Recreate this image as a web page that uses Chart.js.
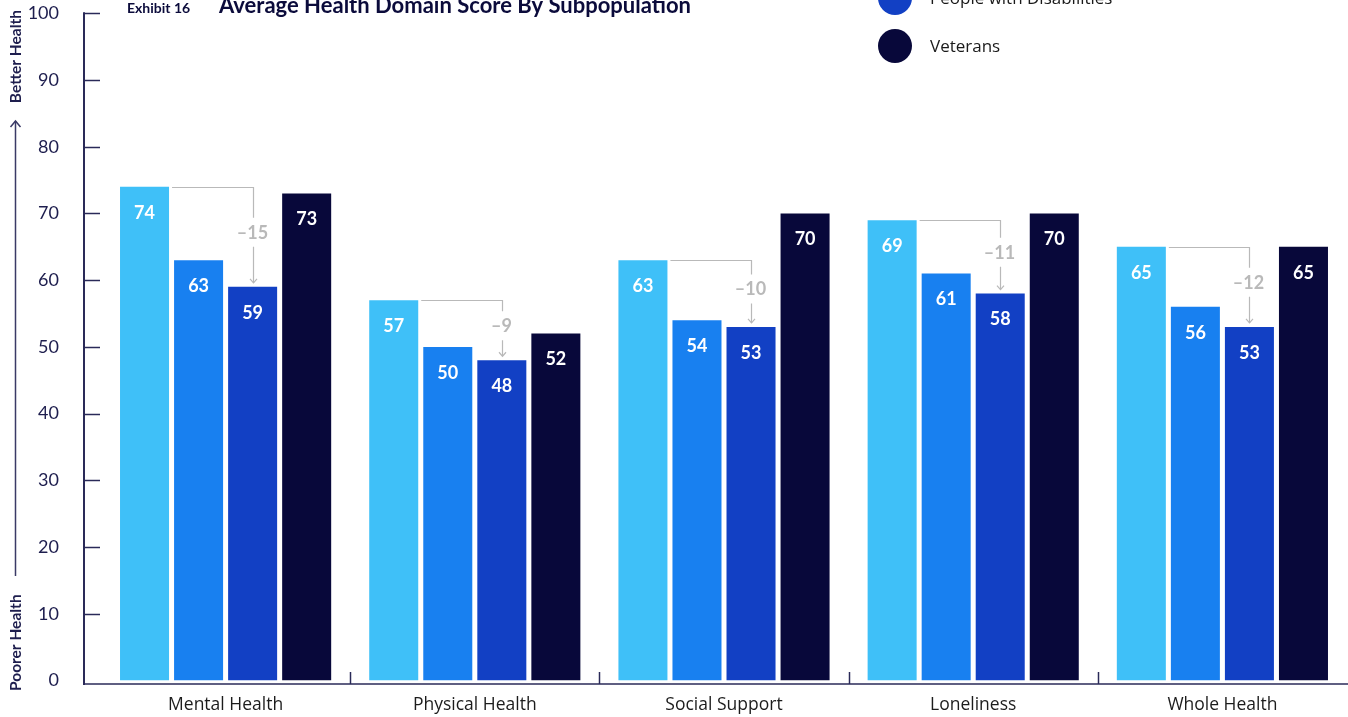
<!DOCTYPE html>
<html>
<head>
<meta charset="utf-8">
<script src="https://cdn.jsdelivr.net/npm/chart.js@4/dist/chart.umd.min.js"></script>
<style>
  html, body { margin: 0; padding: 0; background: #ffffff; }
  #wrap { width: 1348px; height: 717px; position: relative; }
</style>
</head>
<body>
<div id="wrap"><canvas id="c"></canvas></div>
<script>
// Health domains (x categories)
const domains = ['Mental Health', 'Physical Health', 'Social Support', 'Loneliness', 'Whole Health'];

// Average domain score per subpopulation
const seriesNames = ['All Adults', 'LGBTQ+ Adults', 'People with Disabilities', 'Veterans'];
const allAdults    = [74, 57, 63, 69, 65];
const lgbtqAdults  = [63, 50, 54, 61, 56];
const disabilities = [59, 48, 53, 58, 53];
const veterans     = [73, 52, 70, 70, 65];

const seriesColors = ['#3fc0f8', '#1880f0', '#1240c4', '#08083a'];

// y axis ticks
const yTicks = [0, 10, 20, 30, 40, 50, 60, 70, 80, 90, 100];

const NAVY = '#1e1e4e';
const AXIS = '#2a2a58';
const GRAY = '#b9b9b9';

// Title block
const titlePlugin = {
  id: 'titleBlock',
  afterDraw(chart) {
    const ctx = chart.ctx;
    ctx.save();
    ctx.fillStyle = '#0b0b3b';
    ctx.textBaseline = 'alphabetic';
    ctx.textAlign = 'left';
    ctx.font = 'bold 14px Lato, "Open Sans", sans-serif';
    ctx.fillText('Exhibit 16', 127, 13);
    ctx.font = 'bold 22px Lato, "Open Sans", sans-serif';
    ctx.fillText('Average Health Domain Score By Subpopulation', 219, 13);
    ctx.restore();
  }
};

// Stacked legend with round swatches
const legendPlugin = {
  id: 'roundLegend',
  afterDraw(chart) {
    const ctx = chart.ctx;
    const ds = chart.data.datasets;
    const n = ds.length;
    ctx.save();
    ctx.font = '17px "Open Sans", sans-serif';
    ctx.textBaseline = 'middle';
    ctx.textAlign = 'left';
    ds.forEach((d, i) => {
      const cy = 46 - (n - 1 - i) * 48;
      ctx.beginPath();
      ctx.arc(895, cy, 17, 0, Math.PI * 2);
      ctx.fillStyle = d.backgroundColor;
      ctx.fill();
      ctx.fillStyle = '#1a1a1a';
      ctx.fillText(d.label, 930, cy + 1);
    });
    ctx.restore();
  }
};

// Axis lines, y ticks, category separators and the vertical axis caption
const axesPlugin = {
  id: 'customAxes',
  afterDraw(chart) {
    const ctx = chart.ctx;
    const y = chart.scales.y;
    const x = chart.scales.x;
    const ca = chart.chartArea;
    const ax = 84;
    const baseY = ca.bottom + 3.5;
    ctx.save();
    ctx.strokeStyle = AXIS;
    ctx.lineWidth = 2;
    ctx.beginPath();
    ctx.moveTo(ax, y.getPixelForValue(100) - 1);
    ctx.lineTo(ax, baseY + 1);
    ctx.stroke();
    ctx.lineWidth = 1.5;
    yTicks.forEach(v => {
      if (v === 0) return;
      const py = Math.round(y.getPixelForValue(v)) + 0.5;
      ctx.beginPath();
      ctx.moveTo(ax, py);
      ctx.lineTo(ax + 16, py);
      ctx.stroke();
    });
    ctx.lineWidth = 1.5;
    ctx.beginPath();
    ctx.moveTo(ax, baseY);
    ctx.lineTo(chart.width, baseY);
    ctx.stroke();
    // separators between domains
    for (let i = 0; i < domains.length - 1; i++) {
      const sx = Math.round((x.getPixelForValue(i) + x.getPixelForValue(i + 1)) / 2) + 0.5;
      ctx.beginPath();
      ctx.moveTo(sx, baseY - 12);
      ctx.lineTo(sx, baseY);
      ctx.stroke();
    }
    // vertical caption
    ctx.fillStyle = NAVY;
    ctx.strokeStyle = '#3a3a66';
    ctx.lineWidth = 1.5;
    ctx.font = 'bold 15.5px Lato, "Open Sans", sans-serif';
    ctx.save();
    ctx.translate(21, 0);
    ctx.rotate(-Math.PI / 2);
    ctx.textBaseline = 'alphabetic';
    ctx.textAlign = 'left';
    ctx.fillText('Poorer Health', -691, 0);
    ctx.textAlign = 'right';
    ctx.fillText('Better Health', -10, 0);
    ctx.restore();
    ctx.beginPath();
    ctx.moveTo(15.5, 576);
    ctx.lineTo(15.5, 121);
    ctx.stroke();
    ctx.beginPath();
    ctx.moveTo(10.5, 127);
    ctx.lineTo(15.5, 121);
    ctx.lineTo(20.5, 127);
    ctx.stroke();
    ctx.restore();
  }
};

// Values inside bars and the gap markers between first and third series
const labelPlugin = {
  id: 'barLabels',
  afterDatasetsDraw(chart) {
    const ctx = chart.ctx;
    ctx.save();
    ctx.font = 'bold 18px Lato, "Open Sans", sans-serif';
    ctx.textAlign = 'center';
    ctx.textBaseline = 'middle';
    ctx.fillStyle = '#ffffff';
    chart.data.datasets.forEach((d, di) => {
      const meta = chart.getDatasetMeta(di);
      meta.data.forEach((bar, i) => {
        ctx.fillText(String(d.data[i]), bar.x, bar.y + 26);
      });
    });
    const m0 = chart.getDatasetMeta(0);
    const m2 = chart.getDatasetMeta(2);
    ctx.strokeStyle = GRAY;
    ctx.fillStyle = GRAY;
    ctx.lineWidth = 1.2;
    domains.forEach((_, i) => {
      const b0 = m0.data[i];
      const b2 = m2.data[i];
      const diff = disabilities[i] - allAdults[i];
      const x0 = b0.x + b0.width / 2 + 3;
      const y0 = Math.round(b0.y) + 0.5;
      const xv = Math.round(b2.x) + 0.5;
      const yEnd = b2.y - 4;
      const mid = (b0.y + b2.y) / 2 - 4;
      ctx.beginPath();
      ctx.moveTo(x0, y0);
      ctx.lineTo(xv, y0);
      ctx.lineTo(xv, mid - 15);
      ctx.moveTo(xv, mid + 14);
      ctx.lineTo(xv, yEnd);
      ctx.stroke();
      ctx.beginPath();
      ctx.moveTo(xv - 3.5, yEnd - 4);
      ctx.lineTo(xv, yEnd);
      ctx.lineTo(xv + 3.5, yEnd - 4);
      ctx.stroke();
      ctx.fillText('\u2013' + Math.abs(diff), xv - 1, mid);
    });
    ctx.restore();
  }
};

const seriesData = [allAdults, lgbtqAdults, disabilities, veterans];

new Chart(document.getElementById('c'), {
  type: 'bar',
  data: {
    labels: domains,
    datasets: seriesData.map((arr, i) => ({
      label: seriesNames[i],
      data: arr,
      backgroundColor: seriesColors[i],
      borderWidth: 0,
      categoryPercentage: 0.8675,
      barPercentage: 0.907
    }))
  },
  options: {
    responsive: true,
    maintainAspectRatio: false,
    animation: false,
    layout: { padding: { top: 13.3, right: 1, bottom: 0, left: 0 } },
    plugins: {
      legend: { display: false },
      tooltip: { enabled: false },
      title: { display: false }
    },
    scales: {
      x: {
        grid: { display: false, drawTicks: false },
        border: { display: false },
        afterFit(scale) {
          scale.height = 36.5;
          scale.paddingLeft = 0;
          scale.paddingRight = 0;
        },
        ticks: {
          color: '#1c1c1c',
          font: { family: '"Open Sans", sans-serif', size: 17.5 },
          padding: 14.5,
          maxRotation: 0
        }
      },
      y: {
        min: 0,
        max: 100,
        afterBuildTicks(scale) { scale.ticks = yTicks.map(v => ({ value: v })); },
        afterFit(scale) {
          scale.width = 101;
          scale.paddingTop = 0;
          scale.paddingBottom = 0;
        },
        grid: { display: false },
        border: { display: false },
        ticks: {
          color: NAVY,
          font: { family: 'Lato, "Open Sans", sans-serif', size: 18 },
          padding: 34
        }
      }
    }
  },
  plugins: [titlePlugin, legendPlugin, axesPlugin, labelPlugin]
});
</script>
</body>
</html>
